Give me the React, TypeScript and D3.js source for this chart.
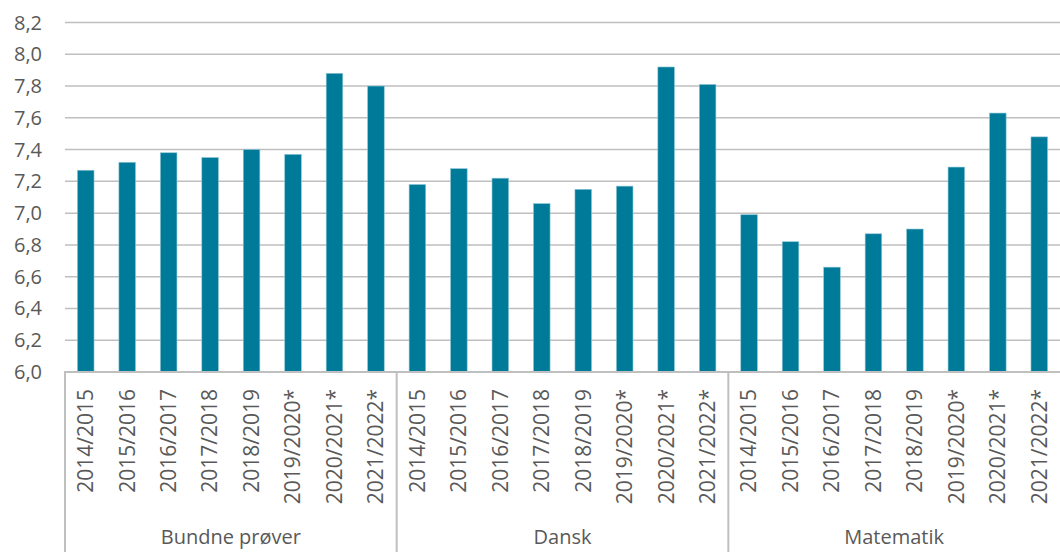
import React from "react";
import * as d3 from "d3";

const groups = ["Bundne prøver", "Dansk", "Matematik"];
const years = [
  "2014/2015",
  "2015/2016",
  "2016/2017",
  "2017/2018",
  "2018/2019",
  "2019/2020*",
  "2020/2021*",
  "2021/2022*",
];
const bundneValues = [7.27, 7.32, 7.38, 7.35, 7.4, 7.37, 7.88, 7.8];
const danskValues = [7.18, 7.28, 7.22, 7.06, 7.15, 7.17, 7.92, 7.81];
const matematikValues = [6.99, 6.82, 6.66, 6.87, 6.9, 7.29, 7.63, 7.48];
const yTicks = [6.0, 6.2, 6.4, 6.6, 6.8, 7.0, 7.2, 7.4, 7.6, 7.8, 8.0, 8.2];

const seriesByGroup = [bundneValues, danskValues, matematikValues];

const W = 1060;
const H = 552;
const left = 65;
const right = 1060;
const top = 22.5;
const bottom = 372;

const FONT = "'Open Sans', sans-serif";
const TEXT = "#595959";
const GRID = "#BFBFBF";
const BAR = "#007A99";

export default function App() {
  const rows = groups.flatMap((g, gi) =>
    years.map((yr, i) => ({ key: `${g}|${yr}`, group: g, year: yr, value: seriesByGroup[gi][i] }))
  );
  const x = d3
    .scaleBand<string>()
    .domain(rows.map((r) => r.key))
    .range([left, right])
    .paddingInner(0.6)
    .paddingOuter(0.3);
  const y = d3.scaleLinear().domain([6.0, 8.2]).range([bottom, top]);
  const fmt = (v: number) => d3.format(".1f")(v).replace(".", ",");
  const step = x.step();
  const groupStart = (gi: number) => left + gi * years.length * step;

  return (
    <svg
      width={W}
      height={H}
      style={{ position: "absolute", left: 0, top: 0, background: "#fff" }}
      fontFamily={FONT}
    >
      {yTicks.map((t) => (
        <g key={t}>
          {t > 6.0 && (
            <line x1={left} x2={right} y1={y(t)} y2={y(t)} stroke={GRID} strokeWidth={1.5} />
          )}
          <text x={42} y={y(t)} dy="0.35em" textAnchor="end" fontSize={20} fill={TEXT}>
            {fmt(t)}
          </text>
        </g>
      ))}
      {rows.map((r) => (
        <rect
          key={r.key}
          x={x(r.key)}
          y={y(r.value)}
          width={x.bandwidth()}
          height={y(6.0) - y(r.value)}
          fill={BAR}
          stroke="#8cc6d6"
          strokeWidth={0.6}
        />
      ))}
      <line x1={left - 1} x2={right} y1={bottom} y2={bottom} stroke={GRID} strokeWidth={2} />
      {groups.map((g, gi) => (
        <line
          key={g}
          x1={groupStart(gi)}
          x2={groupStart(gi)}
          y1={bottom}
          y2={H}
          stroke={GRID}
          strokeWidth={2}
        />
      ))}
      {rows.map((r) => {
        const cx = (x(r.key) as number) + x.bandwidth() / 2;
        return (
          <text
            key={"l" + r.key}
            transform={`translate(${cx},389) rotate(-90)`}
            dy="0.35em"
            textAnchor="end"
            fontSize={21}
            fill={TEXT}
          >
            {r.year}
          </text>
        );
      })}
      {groups.map((g, gi) => (
        <text
          key={"g" + g}
          x={groupStart(gi) + (years.length * step) / 2}
          y={544}
          textAnchor="middle"
          fontSize={20}
          fill={TEXT}
        >
          {g}
        </text>
      ))}
    </svg>
  );
}
